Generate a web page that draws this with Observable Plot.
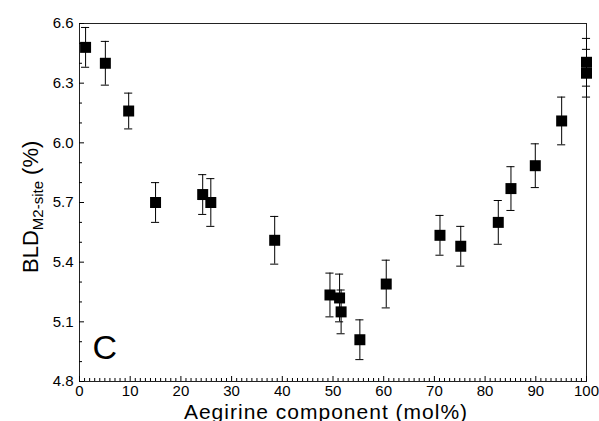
<!DOCTYPE html>
<html>
<head>
<meta charset="utf-8">
<script src="https://cdn.jsdelivr.net/npm/d3@7"></script>
<script src="https://cdn.jsdelivr.net/npm/@observablehq/plot@0.6"></script>
<style>
  html, body { margin: 0; padding: 0; background: #fff; }
  #chart { width: 599px; height: 421px; }
</style>
</head>
<body>
<div id="chart"></div>
<script>
// Aegirine component (mol%)
const aegirine = [1.2, 5.1, 9.7, 15.0, 24.3, 25.9, 38.5, 49.4, 51.3, 51.6, 55.3, 60.5, 71.1, 75.2, 82.6, 85.1, 89.9, 95.1, 100, 100];
// BLD M2-site (%)
const bld = [6.48, 6.40, 6.16, 5.70, 5.74, 5.70, 5.51, 5.235, 5.22, 5.15, 5.01, 5.29, 5.535, 5.48, 5.60, 5.77, 5.885, 6.11, 6.405, 6.35];
// error (±)
const bldErr = [0.10, 0.11, 0.09, 0.10, 0.10, 0.12, 0.12, 0.11, 0.12, 0.11, 0.10, 0.12, 0.10, 0.10, 0.11, 0.11, 0.11, 0.12, 0.12, 0.12];

const xMajorTicks = [0, 10, 20, 30, 40, 50, 60, 70, 80, 90, 100];
const xMinorTicks = d3.range(0, 101, 1).filter(v => v % 10 !== 0);
const yMajorTicks = [4.8, 5.1, 5.4, 5.7, 6.0, 6.3, 6.6];
const yMinorTicks = [4.9, 5.0, 5.2, 5.3, 5.5, 5.6, 5.8, 5.9, 6.1, 6.2, 6.4, 6.5];

const xTitle = "Aegirine component (mol%)";
const panelLabel = "C";

const data = aegirine.map((x, i) => ({x, y: bld[i], e: bldErr[i]}));

const W = 599, H = 421;
const mL = 79, mR = 13, mT = 23, mB = 40;
const plotW = W - mL - mR, plotH = H - mT - mB;

const svg = Plot.plot({
  width: W,
  height: H,
  marginLeft: mL,
  marginRight: mR,
  marginTop: mT,
  marginBottom: mB,
  style: {fontFamily: "'Liberation Sans', Arial, Helvetica, sans-serif", fontSize: "15px", background: "#fff", color: "#000"},
  x: {domain: [0, 100], label: null},
  y: {domain: [4.8, 6.6], label: null},
  marks: [
    Plot.frame({stroke: "#222", strokeWidth: 1}),
    // inward ticks
    Plot.ruleX(xMinorTicks, {x: d => d, insetTop: plotH - 3, stroke: "#000"}),
    Plot.ruleX(xMajorTicks, {x: d => d, insetTop: plotH - 5, stroke: "#000"}),
    Plot.ruleY(yMinorTicks, {y: d => d, insetRight: plotW - 3, stroke: "#000"}),
    Plot.ruleY(yMajorTicks, {y: d => d, insetRight: plotW - 5, stroke: "#000"}),
    Plot.axisX({ticks: xMajorTicks, tickSize: 0, tickPadding: 4, tickFormat: d3.format("d"), label: null}),
    Plot.axisY({ticks: yMajorTicks, tickSize: 0, tickPadding: 6, tickFormat: d3.format(".1f"), label: null}),
    // error bars
    Plot.ruleX(data, {x: "x", y1: d => d.y - d.e, y2: d => d.y + d.e, stroke: "#000", strokeWidth: 1}),
    Plot.ruleY(data, {y: d => d.y + d.e, x1: d => d.x - 0.8, x2: d => d.x + 0.8, stroke: "#000", strokeWidth: 1}),
    Plot.ruleY(data, {y: d => d.y - d.e, x1: d => d.x - 0.8, x2: d => d.x + 0.8, stroke: "#000", strokeWidth: 1}),
    // markers
    Plot.dot(data, {x: "x", y: "y", symbol: "square", r: 6.2, fill: "#000", stroke: "none"}),
    // panel label
    Plot.text([panelLabel], {text: d => d, frameAnchor: "bottom-left", textAnchor: "start", lineAnchor: "bottom", dx: 13, dy: -23, fontSize: 34, fill: "#000"}),
    // x title
    Plot.text([xTitle], {text: d => d, frameAnchor: "bottom", textAnchor: "middle", lineAnchor: "bottom", dx: -7, dy: 37, fontSize: 21, fill: "#000"})
  ]
});

// widen the x title slightly to match the reference's letter spacing
d3.select(svg).selectAll("text").filter(function() { return this.textContent === xTitle; })
  .style("letter-spacing", "1px");

// y title with subscript
const yt = d3.select(svg).append("text")
  .attr("transform", "translate(38,273) rotate(-90)")
  .attr("text-anchor", "start")
  .attr("font-size", 22)
  .attr("fill", "#000");
yt.append("tspan").text("BLD");
yt.append("tspan").attr("font-size", 15).attr("dy", "0.3em").text("M2-site");
yt.append("tspan").attr("dy", "-0.2em").text(" (%)");

document.getElementById("chart").appendChild(svg);
</script>
</body>
</html>
